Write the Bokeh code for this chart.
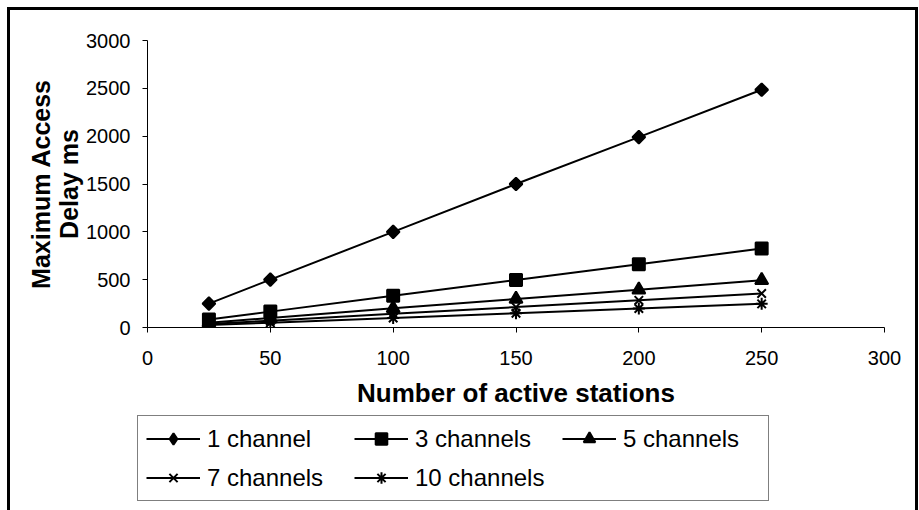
import math
from bokeh.plotting import figure
from bokeh.layouts import column, row
from bokeh.models import Range1d, FixedTicker, Legend, LegendItem
from bokeh.embed import file_html
from bokeh.resources import INLINE

# ---- data ----
stations = [25, 50, 100, 150, 200, 250]
ch1 = [250, 500, 1000, 1500, 1990, 2485]
ch3 = [83, 166, 333, 497, 660, 825]
ch5 = [50, 100, 200, 298, 395, 495]
ch7 = [36, 71, 143, 213, 284, 355]
ch10 = [25, 50, 100, 149, 198, 247]

series_names = ["1 channel", "3 channels", "5 channels", "7 channels", "10 channels"]
series_values = [ch1, ch3, ch5, ch7, ch10]
x_ticks = [0, 50, 100, 150, 200, 250, 300]
y_ticks = [0, 500, 1000, 1500, 2000, 2500, 3000]

x_title = "Number of active stations"
y_title = "Maximum Access\nDelay ms"

FONT = "Liberation Sans"

# plot markers (a diamond is a square turned by 45 degrees)
markers = [
    dict(marker="square", size=9, angle=math.pi / 4),
    dict(marker="square", size=12, angle=0),
    dict(marker="triangle", size=13, angle=0),
    dict(marker="x", size=12, angle=0),
    dict(marker="asterisk", size=12, angle=0),
]
# legend samples (legend glyphs ignore the angle, so use Bokeh's own diamond there)
legend_markers = [
    dict(marker="diamond", size=15),
    dict(marker="square", size=11),
    dict(marker="triangle", size=12),
    dict(marker="x", size=11),
    dict(marker="asterisk", size=11),
]

W = 918
H_MAIN = 415
H_LEG = 95

p = figure(width=W, height=H_MAIN, output_backend="svg", toolbar_location=None,
           x_range=Range1d(0, 300), y_range=Range1d(0, 3000),
           min_border_left=147, min_border_right=34,
           min_border_top=40, min_border_bottom=H_MAIN - 327)

# outer chart frame (left, top, right sides) drawn behind a transparent canvas border
p.border_fill_color = None
p.background_fill_color = "white"
p.styles = {
    "background": (
        "linear-gradient(#000,#000) 7px 7px / 3px 100% no-repeat, "
        "linear-gradient(#000,#000) 7px 7px / 911px 3px no-repeat, "
        "linear-gradient(#000,#000) 915px 7px / 3px 100% no-repeat, #fff"
    )
}

p.outline_line_color = None
p.xgrid.visible = False
p.ygrid.visible = False

for ax in (p.xaxis, p.yaxis):
    ax.axis_line_color = "black"
    ax.axis_line_width = 1
    ax.major_tick_line_color = "black"
    ax.major_tick_in = 0
    ax.major_tick_out = 5
    ax.minor_tick_line_color = None
    ax.major_label_text_font = FONT
    ax.major_label_text_font_size = "20px"
    ax.major_label_text_color = "black"
    ax.axis_label_text_font = FONT
    ax.axis_label_text_font_style = "bold"
    ax.axis_label_text_color = "black"

p.xaxis.ticker = FixedTicker(ticks=x_ticks)
p.yaxis.ticker = FixedTicker(ticks=y_ticks)
p.xaxis.major_label_standoff = 18
p.yaxis.major_label_standoff = 12

p.xaxis.axis_label = x_title
p.xaxis.axis_label_text_font_size = "26px"
p.xaxis.axis_label_standoff = 10

p.yaxis.axis_label = y_title
p.yaxis.axis_label_text_font_size = "25px"
p.yaxis.axis_label_text_line_height = 1.0
p.yaxis.axis_label_standoff = 0

for name, vals, mk in zip(series_names, series_values, markers):
    p.line(stations, vals, line_color="black", line_width=2)
    p.scatter(stations, vals, marker=mk["marker"], size=mk["size"], angle=mk["angle"],
              fill_color="black", line_color="black", line_width=2)

# ---- legend strip below the chart: same series drawn into a view that shows
#      none of them, only so the legend can sample their glyphs ----
p2 = figure(width=W, height=H_LEG, output_backend="svg", toolbar_location=None,
            x_range=Range1d(0, 1), y_range=Range1d(-2, -1),
            min_border_left=0, min_border_right=0, min_border_top=0, min_border_bottom=0)
p2.axis.visible = False
p2.grid.visible = False
p2.outline_line_color = None
p2.border_fill_color = None
p2.background_fill_color = None
p2.styles = {
    "background": (
        "linear-gradient(#000,#000) 7px 0 / 3px 100% no-repeat, "
        "linear-gradient(#000,#000) 915px 0 / 3px 100% no-repeat, #fff"
    )
}

items = []
for name, vals, mk in zip(series_names, series_values, legend_markers):
    r_line = p2.line(stations, vals, line_color="black", line_width=2)
    r_pts = p2.scatter(stations, vals, marker=mk["marker"], size=mk["size"],
                       fill_color="black", line_color="black", line_width=2)
    items.append(LegendItem(label=name, renderers=[r_line, r_pts]))

legend = Legend(items=items, orientation="horizontal", ncols=3,
                location=(137, 9),
                glyph_width=54, glyph_height=29, label_height=29,
                label_width=137, label_standoff=7, spacing=10,
                padding=8, margin=0,
                label_text_font=FONT, label_text_font_size="24px",
                label_text_color="black",
                border_line_color="black", border_line_width=1,
                background_fill_color="white", background_fill_alpha=1)
p2.add_layout(legend)

layout = column(p, row(p2, spacing=0), spacing=0)
open("out.html", "w").write(file_html(layout, INLINE))
